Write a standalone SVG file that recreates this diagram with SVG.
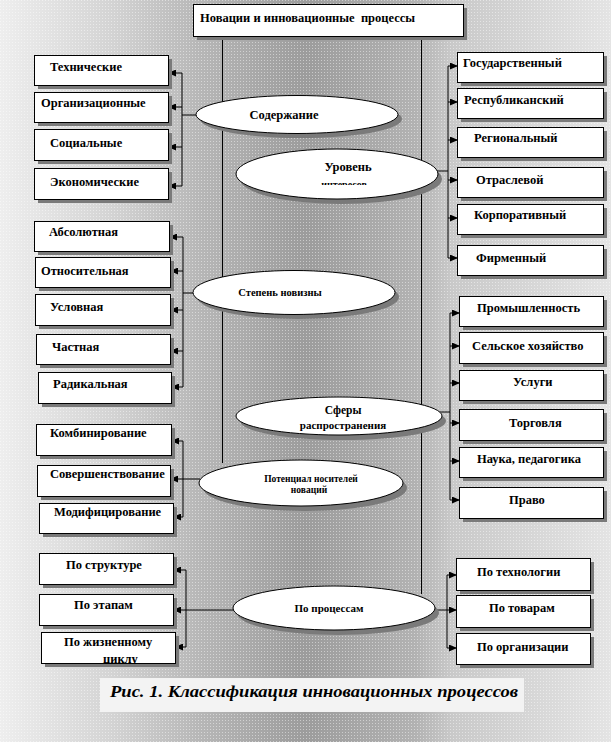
<svg xmlns="http://www.w3.org/2000/svg" width="611" height="742" viewBox="0 0 611 742">
<defs>
<linearGradient id="bg" x1="0" y1="0" x2="1" y2="0">
<stop offset="0" stop-color="#eeeeee"/>
<stop offset="0.18" stop-color="#d4d4d4"/>
<stop offset="0.33" stop-color="#b6b6b6"/>
<stop offset="0.5" stop-color="#9c9c9c"/>
<stop offset="0.68" stop-color="#b2b2b2"/>
<stop offset="0.74" stop-color="#c9c9c9"/>
<stop offset="1" stop-color="#e4e4e4"/>
</linearGradient>
<pattern id="dots" width="3" height="3" patternUnits="userSpaceOnUse">
<rect x="0" y="0" width="1" height="1" fill="#ffffff" opacity="0.45"/>
</pattern>
<marker id="ah" markerWidth="8" markerHeight="7" refX="8" refY="3.5" orient="auto" markerUnits="userSpaceOnUse">
<path d="M0,0 L8,3.5 L0,7 z" fill="#000"/>
</marker>
<clipPath id="clipUr"><rect x="230" y="140" width="220" height="45"/></clipPath>
<clipPath id="clipCy"><rect x="41" y="632" width="134" height="31"/></clipPath>
</defs>
<style>
.bx{fill:#fff;stroke:#000;stroke-width:1}
.sh{fill:#7a7a7a}
.el{fill:#fff;stroke:#000;stroke-width:1}
.t{font-weight:bold;font-size:12.5px;fill:#000}
.ts{font-weight:bold;fill:#000}
.ln{stroke:#000;stroke-width:1;fill:none}
.ar{stroke:#000;stroke-width:1;fill:none;marker-end:url(#ah)}
.cl{stroke:#000;stroke-width:1}
</style>
<rect x="0" y="0" width="611" height="742" fill="url(#bg)"/>
<rect x="0" y="0" width="611" height="742" fill="url(#dots)"/>
<rect x="100" y="678" width="424" height="34" fill="#f3f3f3"/>

<g id="column">
<line class="cl" x1="222.5" y1="36" x2="222.5" y2="463"/>
<line class="cl" x1="421.5" y1="36" x2="421.5" y2="594"/>
</g>

<g id="connectors">
<line class="ln" x1="182" y1="73" x2="182" y2="186"/>
<line class="ar" x1="182" y1="73" x2="168" y2="73"/>
<line class="ar" x1="182" y1="107" x2="168" y2="107"/>
<line class="ar" x1="182" y1="147" x2="168" y2="147"/>
<line class="ar" x1="182" y1="186" x2="168" y2="186"/>
<line class="ln" x1="182" y1="115" x2="197" y2="115"/>
<line class="ln" x1="448" y1="66" x2="448" y2="258"/>
<line class="ar" x1="448" y1="66" x2="458" y2="66"/>
<line class="ar" x1="448" y1="102" x2="458" y2="102"/>
<line class="ar" x1="448" y1="140" x2="458" y2="140"/>
<line class="ar" x1="448" y1="180" x2="458" y2="180"/>
<line class="ar" x1="448" y1="218" x2="458" y2="218"/>
<line class="ar" x1="448" y1="258" x2="458" y2="258"/>
<line class="ln" x1="437" y1="171" x2="448" y2="171"/>
<line class="ln" x1="183" y1="237" x2="183" y2="387"/>
<line class="ar" x1="183" y1="237" x2="169" y2="237"/>
<line class="ar" x1="183" y1="271" x2="170" y2="271"/>
<line class="ar" x1="183" y1="310" x2="170" y2="310"/>
<line class="ar" x1="183" y1="351" x2="170" y2="351"/>
<line class="ar" x1="183" y1="387" x2="171" y2="387"/>
<line class="ln" x1="183" y1="293" x2="194" y2="293"/>
<line class="ln" x1="450" y1="313" x2="450" y2="500"/>
<line class="ar" x1="450" y1="313" x2="460" y2="313"/>
<line class="ar" x1="450" y1="346" x2="460" y2="346"/>
<line class="ar" x1="450" y1="383" x2="460" y2="383"/>
<line class="ar" x1="450" y1="423" x2="460" y2="423"/>
<line class="ar" x1="450" y1="461" x2="460" y2="461"/>
<line class="ar" x1="450" y1="500" x2="460" y2="500"/>
<line class="ln" x1="440" y1="412" x2="450" y2="412"/>
<line class="ln" x1="183" y1="441" x2="183" y2="517"/>
<line class="ar" x1="183" y1="441" x2="171" y2="441"/>
<line class="ar" x1="200" y1="479" x2="170" y2="479"/>
<line class="ar" x1="183" y1="517" x2="173" y2="517"/>
<line class="ln" x1="186" y1="570" x2="186" y2="647"/>
<line class="ar" x1="186" y1="570" x2="173" y2="570"/>
<line class="ar" x1="234" y1="610" x2="173" y2="610"/>
<line class="ar" x1="186" y1="647" x2="175" y2="647"/>
<line class="ln" x1="447" y1="575" x2="447" y2="648"/>
<line class="ar" x1="447" y1="575" x2="457" y2="575"/>
<line class="ar" x1="447" y1="610" x2="457" y2="610"/>
<line class="ar" x1="447" y1="648" x2="457" y2="648"/>
<line class="ln" x1="435" y1="610" x2="447" y2="610"/>
</g>

<g id="nodes" font-family="Liberation Serif, DejaVu Serif, serif">
<g id="title">
<rect class="sh" x="197" y="8" width="270" height="32"/>
<rect class="bx" x="193.5" y="4.5" width="270" height="32"/>
<text class="t" x="200" y="22" xml:space="preserve">Новации и инновационные  процессы</text>
</g>

<g id="e-soderzhanie">
<ellipse class="sh" cx="301" cy="119" rx="101" ry="19"/>
<ellipse class="el" cx="297" cy="114.5" rx="101" ry="19"/>
<text class="t" x="284" y="119" text-anchor="middle">Содержание</text>
</g>
<g id="e-uroven">
<ellipse class="sh" cx="341" cy="179" rx="101" ry="25"/>
<ellipse class="el" cx="337" cy="174" rx="101" ry="25"/>
<text class="t" x="348" y="171" text-anchor="middle">Уровень</text>
<text class="ts" x="344" y="188" font-size="10" text-anchor="middle" clip-path="url(#clipUr)">интересов</text>
</g>
<g id="e-stepen">
<ellipse class="sh" cx="298" cy="297" rx="101" ry="22"/>
<ellipse class="el" cx="294" cy="292.5" rx="101" ry="22"/>
<text class="ts" x="280" y="296" font-size="10.5" text-anchor="middle">Степень новизны</text>
</g>
<g id="e-sfery">
<ellipse class="sh" cx="343" cy="421" rx="103" ry="19"/>
<ellipse class="el" cx="339" cy="416" rx="103" ry="19"/>
<text class="ts" x="343" y="414" font-size="11.5" text-anchor="middle">Сферы</text>
<text class="ts" x="343" y="429" font-size="11" text-anchor="middle">распространения</text>
</g>
<g id="e-potencial">
<ellipse class="sh" cx="305" cy="488" rx="102" ry="23"/>
<ellipse class="el" cx="301" cy="483" rx="102" ry="23"/>
<text class="ts" x="311" y="482" font-size="9.5" text-anchor="middle">Потенциал носителей</text>
<text class="ts" x="309" y="493" font-size="9.5" text-anchor="middle">новаций</text>
</g>
<g id="e-processy">
<ellipse class="sh" cx="338" cy="613" rx="101" ry="22"/>
<ellipse class="el" cx="334" cy="608" rx="101" ry="22"/>
<text class="ts" x="329" y="612" font-size="11" text-anchor="middle">По процессам</text>
</g>

<g id="n-tehnicheskie"><rect class="sh" x="38" y="59" width="134" height="30"/><rect class="bx" x="34.5" y="55.5" width="134" height="30"/><text class="t" x="50" y="71">Технические</text></g>
<g id="n-organizacionnye"><rect class="sh" x="38" y="96" width="134" height="30"/><rect class="bx" x="34.5" y="92.5" width="134" height="30"/><text class="t" x="41" y="107">Организационные</text></g>
<g id="n-socialnye"><rect class="sh" x="38" y="133" width="134" height="31"/><rect class="bx" x="34.5" y="129.5" width="134" height="31"/><text class="t" x="50" y="147">Социальные</text></g>
<g id="n-ekonomicheskie"><rect class="sh" x="38" y="172" width="134" height="31"/><rect class="bx" x="34.5" y="168.5" width="134" height="31"/><text class="t" x="50" y="186">Экономические</text></g>

<g id="n-gos"><rect class="sh" x="461" y="56" width="146" height="30"/><rect class="bx" x="457.5" y="52.5" width="146" height="30"/><text class="t" x="463" y="67">Государственный</text></g>
<g id="n-resp"><rect class="sh" x="461" y="92" width="146" height="30"/><rect class="bx" x="457.5" y="88.5" width="146" height="30"/><text class="t" x="464" y="104">Республиканский</text></g>
<g id="n-reg"><rect class="sh" x="461" y="131" width="146" height="30"/><rect class="bx" x="457.5" y="127.5" width="146" height="30"/><text class="t" x="474" y="142">Региональный</text></g>
<g id="n-otrasl"><rect class="sh" x="461" y="171" width="146" height="30"/><rect class="bx" x="457.5" y="167.5" width="146" height="30"/><text class="t" x="476" y="184">Отраслевой</text></g>
<g id="n-korp"><rect class="sh" x="461" y="208" width="146" height="30"/><rect class="bx" x="457.5" y="204.5" width="146" height="30"/><text class="t" x="474" y="219">Корпоративный</text></g>
<g id="n-firm"><rect class="sh" x="461" y="249" width="146" height="30"/><rect class="bx" x="457.5" y="245.5" width="146" height="30"/><text class="t" x="476" y="262">Фирменный</text></g>

<g id="n-abs"><rect class="sh" x="38" y="225" width="135" height="30"/><rect class="bx" x="34.5" y="221.5" width="135" height="30"/><text class="t" x="49" y="236">Абсолютная</text></g>
<g id="n-otn"><rect class="sh" x="39" y="261" width="135" height="30"/><rect class="bx" x="35.5" y="257.5" width="135" height="30"/><text class="t" x="41" y="275">Относительная</text></g>
<g id="n-usl"><rect class="sh" x="39" y="298" width="135" height="31"/><rect class="bx" x="35.5" y="294.5" width="135" height="31"/><text class="t" x="50" y="311">Условная</text></g>
<g id="n-chast"><rect class="sh" x="40" y="338" width="134" height="30"/><rect class="bx" x="36.5" y="334.5" width="134" height="30"/><text class="t" x="52" y="351">Частная</text></g>
<g id="n-rad"><rect class="sh" x="42" y="376" width="133" height="31"/><rect class="bx" x="38.5" y="372.5" width="133" height="31"/><text class="t" x="53" y="388">Радикальная</text></g>

<g id="n-prom"><rect class="sh" x="463" y="300" width="144" height="30"/><rect class="bx" x="459.5" y="296.5" width="144" height="30"/><text class="t" x="477" y="312">Промышленность</text></g>
<g id="n-selsk"><rect class="sh" x="463" y="336" width="144" height="31"/><rect class="bx" x="459.5" y="332.5" width="144" height="31"/><text class="t" x="472" y="350">Сельское хозяйство</text></g>
<g id="n-uslugi"><rect class="sh" x="463" y="374" width="144" height="30"/><rect class="bx" x="459.5" y="370.5" width="144" height="30"/><text class="t" x="513" y="386">Услуги</text></g>
<g id="n-torg"><rect class="sh" x="463" y="413" width="144" height="31"/><rect class="bx" x="459.5" y="409.5" width="144" height="31"/><text class="t" x="509" y="427">Торговля</text></g>
<g id="n-nauka"><rect class="sh" x="463" y="451" width="144" height="30"/><rect class="bx" x="459.5" y="447.5" width="144" height="30"/><text class="t" x="477" y="463">Наука, педагогика</text></g>
<g id="n-pravo"><rect class="sh" x="463" y="491" width="144" height="31"/><rect class="bx" x="459.5" y="487.5" width="144" height="31"/><text class="t" x="509" y="504">Право</text></g>

<g id="n-komb"><rect class="sh" x="40" y="428" width="135" height="31"/><rect class="bx" x="36.5" y="424.5" width="135" height="31"/><text class="t" x="50" y="437">Комбинирование</text></g>
<g id="n-sover"><rect class="sh" x="41" y="469" width="133" height="31"/><rect class="bx" x="37.5" y="465.5" width="133" height="31"/><text class="t" x="50" y="478">Совершенствование</text></g>
<g id="n-modif"><rect class="sh" x="43" y="507" width="134" height="30"/><rect class="bx" x="39.5" y="503.5" width="134" height="30"/><text class="t" x="54" y="516">Модифицирование</text></g>

<g id="n-struct"><rect class="sh" x="43" y="557" width="134" height="31"/><rect class="bx" x="39.5" y="553.5" width="134" height="31"/><text class="t" x="66" y="569">По структуре</text></g>
<g id="n-etap"><rect class="sh" x="43" y="598" width="134" height="31"/><rect class="bx" x="39.5" y="594.5" width="134" height="31"/><text class="t" x="74" y="609">По этапам</text></g>
<g id="n-cikl"><rect class="sh" x="45" y="636" width="134" height="31"/><rect class="bx" x="41.5" y="632.5" width="134" height="31"/><text class="t" x="64" y="646">По жизненному</text><text class="t" x="103" y="663" clip-path="url(#clipCy)">циклу</text></g>

<g id="n-tehn"><rect class="sh" x="460" y="562" width="134" height="32"/><rect class="bx" x="456.5" y="558.5" width="134" height="32"/><text class="t" x="477" y="576">По технологии</text></g>
<g id="n-tovar"><rect class="sh" x="460" y="599" width="134" height="32"/><rect class="bx" x="456.5" y="595.5" width="134" height="32"/><text class="t" x="489" y="612">По товарам</text></g>
<g id="n-org"><rect class="sh" x="460" y="637" width="134" height="31"/><rect class="bx" x="456.5" y="633.5" width="134" height="31"/><text class="t" x="477" y="651">По организации</text></g>
</g>

<g id="caption">
<text x="110" y="697" font-family="Liberation Serif, DejaVu Serif, serif" font-weight="bold" font-style="italic" font-size="17" textLength="408" lengthAdjust="spacingAndGlyphs" fill="#000">Рис. 1. Классификация инновационных процессов</text>
</g>
</svg>
